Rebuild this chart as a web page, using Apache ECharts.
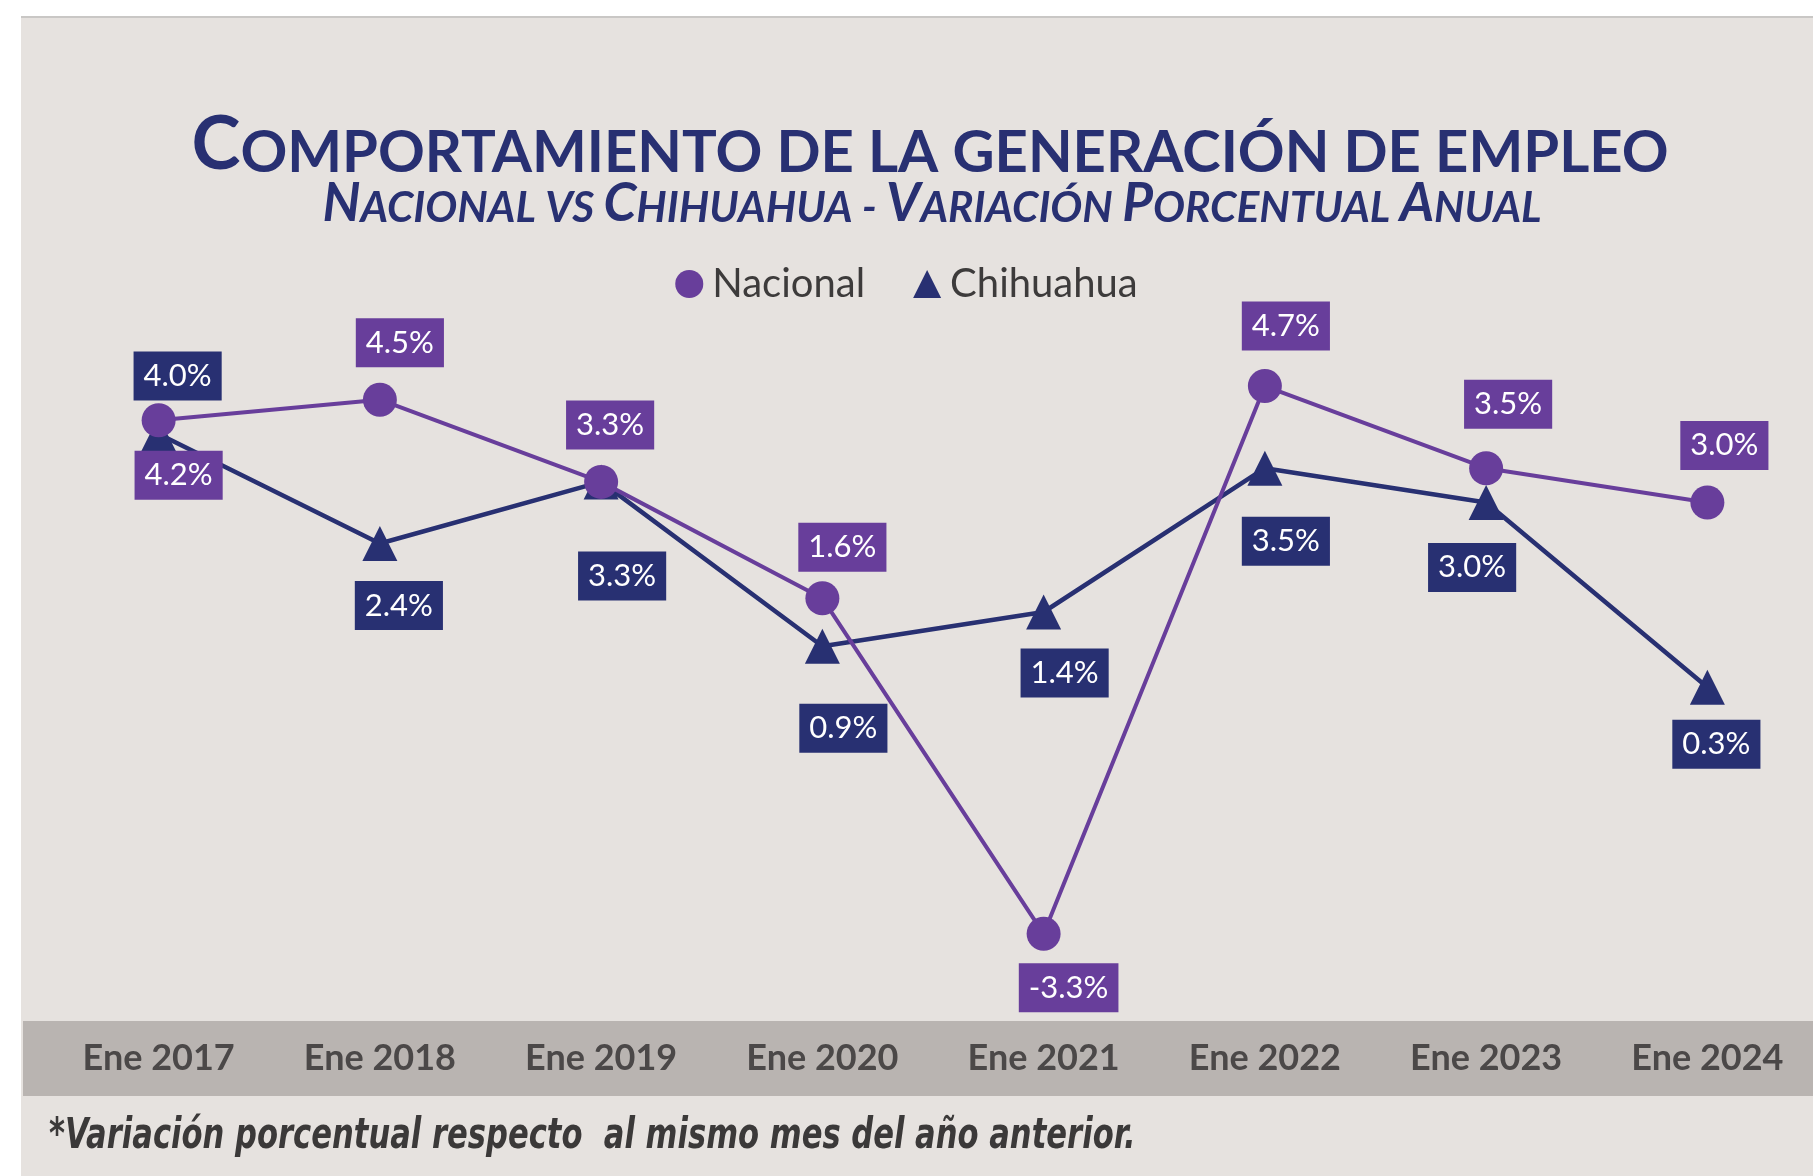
<!DOCTYPE html>
<html>
<head>
<meta charset="utf-8">
<title>Comportamiento de la generación de empleo</title>
<script src="https://cdn.jsdelivr.net/npm/echarts/dist/echarts.min.js"></script>
<style>
html, body { margin: 0; padding: 0; background: #fff; }
#chart { width: 1813px; height: 1176px; }
</style>
</head>
<body>
<div id="chart"></div>
<script>
// datos
var meses = ['Ene 2017', 'Ene 2018', 'Ene 2019', 'Ene 2020', 'Ene 2021', 'Ene 2022', 'Ene 2023', 'Ene 2024'];
var nacional = [4.2, 4.5, 3.3, 1.6, -3.3, 4.7, 3.5, 3.0];
var chihuahua = [4.0, 2.4, 3.3, 0.9, 1.4, 3.5, 3.0, 0.3];

// desplazamiento de las etiquetas respecto al punto (px)
var offNacional = [[20, 55], [20, -57], [9, -57], [20, -51], [25, 54], [21, -60], [22, -64], [17, -57]];
var offChihuahua = [[19, -58], [19, 62], [21, 94], [21, 82], [21, 61], [21, 73], [-14, 65], [9, 57]];

var morado = '#683e9b';
var azul = '#283072';
var fuente = 'Lato, "Open Sans", sans-serif';

function etiqueta(color) {
	return {
		show: true,
		position: 'inside',
		formatter: function (p) { return p.value.toFixed(1) + '%'; },
		color: '#fff',
		fontFamily: fuente,
		fontSize: 31,
		lineHeight: 30,
		backgroundColor: color,
		padding: [10, 10, 9, 10]
	};
}

var myChart = echarts.init(document.getElementById('chart'));
var option = {
	animation: false,
	backgroundColor: '#fff',
	title: [{
		text: '{a|C}{b|OMPORTAMIENTO DE LA GENERACIÓN DE EMPLEO}',
		left: 930,
		top: 108,
		textAlign: 'center',
		padding: 0,
		textStyle: {
			rich: {
				a: { fontFamily: fuente, fontWeight: 'bold', fontSize: 74, lineHeight: 74, color: azul, verticalAlign: 'bottom' },
				b: { fontFamily: fuente, fontWeight: 'bold', fontSize: 58, lineHeight: 58, color: azul, verticalAlign: 'bottom' }
			}
		}
	}, {
		text: '{a|N}{b|ACIONAL VS }{a|C}{b|HIHUAHUA - }{a|V}{b|ARIACIÓN }{a|P}{b|ORCENTUAL }{a|A}{b|NUAL}',
		left: 932,
		top: 177,
		textAlign: 'center',
		padding: 0,
		textStyle: {
			rich: {
				a: { fontFamily: fuente, fontStyle: 'italic', fontWeight: 'bold', fontSize: 53, lineHeight: 53, color: azul, verticalAlign: 'bottom' },
				b: { fontFamily: fuente, fontStyle: 'italic', fontWeight: 'bold', fontSize: 42.5, lineHeight: 42.5, color: azul, verticalAlign: 'bottom' }
			}
		}
	}],
	legend: {
		left: 'center',
		top: 259,
		itemWidth: 28,
		itemHeight: 28,
		itemGap: 48,
		textStyle: { fontFamily: fuente, fontSize: 40, color: '#3d3b3b', padding: [0, 0, 0, 4] },
		data: [
			{ name: 'Nacional', icon: 'circle' },
			{ name: 'Chihuahua', icon: 'triangle' }
		]
	},
	graphic: [
		{ type: 'rect', z: -10, shape: { x: 21, y: 17, width: 1792, height: 1159 }, style: { fill: '#e6e2df' } },
		{ type: 'rect', z: -9, shape: { x: 21, y: 16, width: 1792, height: 2 }, style: { fill: '#c9c7c5' } },
		{ type: 'rect', z: -9, shape: { x: 23, y: 1021, width: 1790, height: 75 }, style: { fill: '#b9b4b1' } },
		{
			type: 'text', z: 10, x: 49, y: 1137, scaleX: 0.81,
			style: {
				text: '*Variación porcentual respecto  al mismo mes del año anterior.',
				font: 'italic bold 42px "DejaVu Sans Condensed", "DejaVu Sans", sans-serif',
				fill: '#3b3939',
				verticalAlign: 'middle'
			}
		}
	],
	grid: {
		left: 48,
		top: 297,
		width: 1770,
		height: 719,
		containLabel: false,
		outerBoundsMode: 'none'
	},
	xAxis: {
		type: 'category',
		data: meses,
		boundaryGap: true,
		axisLine: { show: false },
		axisTick: { show: false },
		splitLine: { show: false },
		axisLabel: {
			margin: 24,
			fontFamily: fuente,
			fontWeight: 'bold',
			fontSize: 36,
			color: '#4b4848'
		}
	},
	yAxis: {
		type: 'value',
		min: -4.5,
		max: 6,
		show: false,
		splitLine: { show: false }
	},
	series: [{
		name: 'Nacional',
		type: 'line',
		z: 4,
		symbol: 'circle',
		symbolSize: 34,
		color: morado,
		lineStyle: { color: morado, width: 4 },
		itemStyle: { color: morado },
		label: etiqueta(morado),
		data: nacional.map(function (v, i) {
			return { value: v, label: { offset: offNacional[i] } };
		})
	}, {
		name: 'Chihuahua',
		type: 'line',
		z: 3,
		symbol: 'triangle',
		symbolSize: 35,
		color: azul,
		lineStyle: { color: azul, width: 4.5 },
		itemStyle: { color: azul },
		label: etiqueta(azul),
		data: chihuahua.map(function (v, i) {
			return { value: v, label: { offset: offChihuahua[i] } };
		})
	}]
};
myChart.setOption(option);
window.onresize = function () {
	myChart.resize();
};
</script>
</body>
</html>
